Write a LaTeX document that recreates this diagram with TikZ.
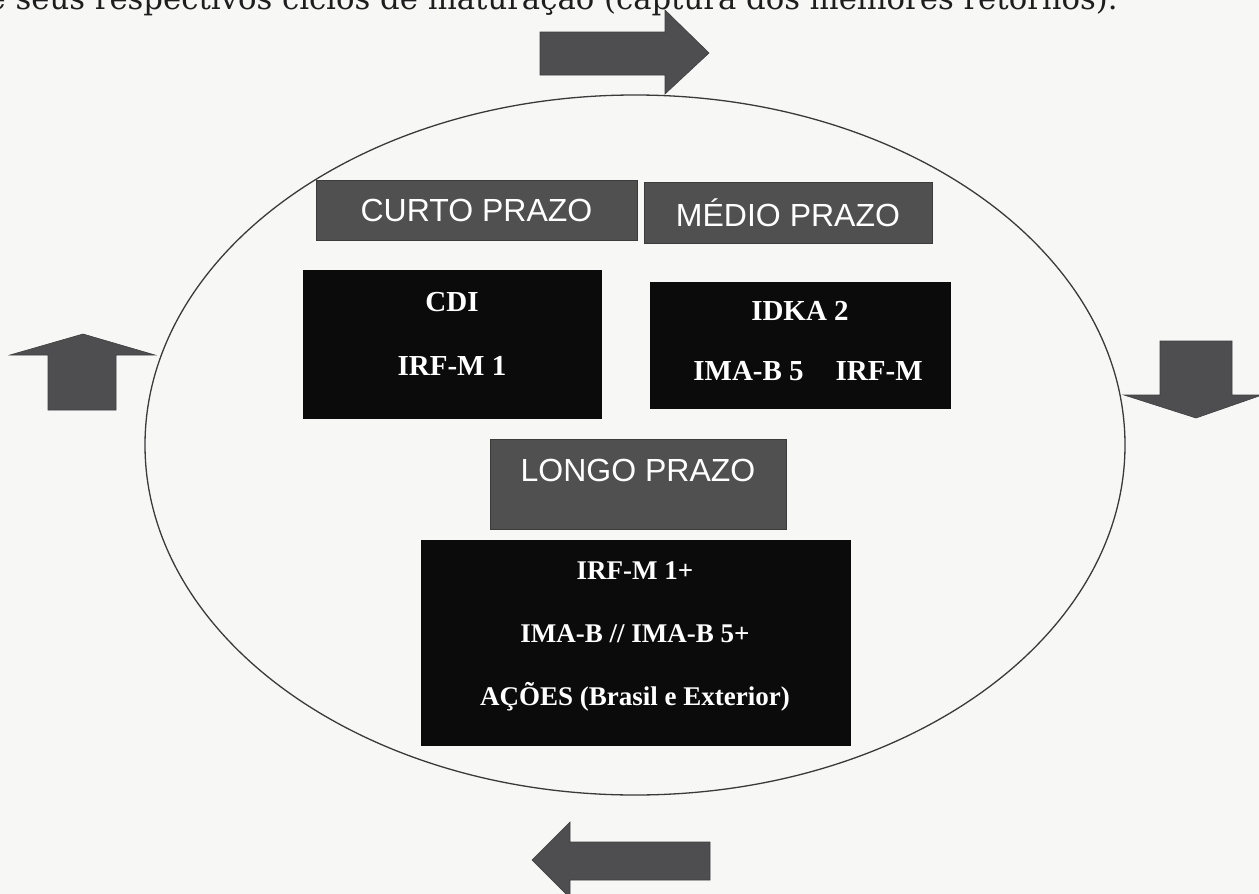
\documentclass[tikz,border=0pt]{standalone}
\usepackage{fontspec}
\usetikzlibrary{shapes.geometric}
\setmainfont{Liberation Serif}
\newfontfamily\sansf{Liberation Sans}
\newfontfamily\serifb{Liberation Serif}
\newfontfamily\topf{DejaVu Serif}
\definecolor{bgc}{HTML}{F7F7F5}
\definecolor{hdrgray}{HTML}{505050}
\definecolor{hdrline}{HTML}{3C3C3C}
\definecolor{blkc}{HTML}{0B0B0B}
\definecolor{arrowc}{HTML}{4E4E50}
\definecolor{textc}{HTML}{1E1E1E}
\definecolor{ellc}{HTML}{3A3A3A}
\begin{document}
\begin{tikzpicture}[x=1pt,y=-1pt,
  hdr/.style={draw=hdrline, fill=hdrgray, line width=1pt, inner sep=0pt},
  hdrtext/.style={text=white, inner sep=0pt, font=\sansf\fontsize{32}{36}\selectfont},
  blk/.style={fill=blkc, draw=blkc, inner sep=0pt},
  lbl/.style={text=white, inner sep=0pt, font=\serifb\bfseries\fontsize{29}{33}\selectfont},
  lblsm/.style={text=white, inner sep=0pt, font=\serifb\bfseries\fontsize{27}{31}\selectfont},
  blockarrow/.style={fill=arrowc, draw=arrowc!80!black, line width=0.6pt}]
\fill[bgc] (0,0) rectangle (1259,894);
\useasboundingbox (0,0) rectangle (1259,894);
\clip (0,0) rectangle (1259,894);

% intro text (cut at the top)
\node[anchor=base east, inner sep=0pt, text=textc] (intro) at (1118,9.5)
  {\resizebox{1130pt}{!}{\topf\fontsize{27}{30}\selectfont e seus respectivos ciclos de maturação (captura dos melhores retornos).}};

% cycle ellipse
\node[draw=ellc, line width=1.3pt, ellipse, minimum width=980, minimum height=700, inner sep=0pt] (cycle) at (635,445) {};

% block arrows
\fill[blockarrow] (540,32) -- (665,32) -- (665,10) -- (709,53) -- (665,94) -- (665,75) -- (540,75) -- cycle;
\fill[blockarrow] (48,410) -- (48,355) -- (10,355) -- (83,334) -- (155,355) -- (116,355) -- (116,410) -- cycle;
\fill[blockarrow] (1160,341) -- (1232,341) -- (1232,395) -- (1262,395) -- (1196,418) -- (1124,395) -- (1160,395) -- cycle;
\fill[blockarrow] (710,842) -- (570,842) -- (570,822) -- (532,860) -- (570,898) -- (570,880) -- (710,880) -- cycle;

% header boxes
\node[hdr, minimum width=321, minimum height=60] (curto) at (476.5,210) {};
\node[hdrtext] (curtot) at (curto) {CURTO PRAZO};
\node[hdr, minimum width=288, minimum height=61] (medio) at (788,212.5) {};
\node[hdrtext] (mediot) at (medio) {MÉDIO PRAZO};
\node[hdr, minimum width=296, minimum height=90] (longo) at (638,484) {};
\node[hdrtext] (longot) at (638,470) {LONGO PRAZO};

% black boxes
\node[blk, minimum width=298, minimum height=148] (curtobox) at (452,344) {};
\node[lbl] (cdi) at (452,302) {CDI};
\node[lbl] (irfm1) at (452,366) {IRF-M 1};

\node[blk, minimum width=300, minimum height=126] (mediobox) at (800,345) {};
\node[lbl] (idka) at (800,311) {IDKA 2};
\node[lbl] (imab5) at (808,371) {IMA-B 5\hspace{32pt}IRF-M};

\node[blk, minimum width=429, minimum height=205] (longobox) at (635.5,642.5) {};
\node[lblsm] (irfm1p) at (635,571) {IRF-M 1+};
\node[lblsm] (imab) at (635,634) {IMA-B // IMA-B 5+};
\node[lblsm] (acoes) at (635,697) {AÇÕES (Brasil e Exterior)};
\end{tikzpicture}
\end{document}
